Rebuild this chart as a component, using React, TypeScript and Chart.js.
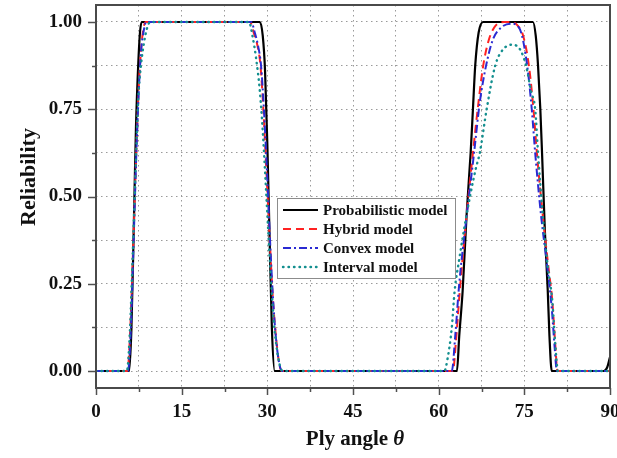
import React, { useEffect, useRef } from 'react';
import { Chart, registerables } from 'chart.js';

Chart.register(...registerables);

// Ply angle (deg) / reliability pairs for each model
const probAngle = [0, 5.8, 6.2, 6.6, 7.0, 7.4, 7.7, 8.0, 28.7, 29.2, 29.6, 30.0, 30.4, 30.8, 31.3, 63.2, 63.6, 64.2, 64.9, 65.6, 66.0, 66.4, 67.0, 67.8, 76.5, 77.0, 77.4, 77.8, 78.1, 78.6, 79.1, 79.4, 79.8, 88.9, 89.5, 90];
const probReliability = [0, 0, 0.12, 0.4, 0.7, 0.88, 0.97, 1, 1, 0.96, 0.86, 0.65, 0.38, 0.12, 0, 0, 0.1, 0.23, 0.45, 0.625, 0.75, 0.875, 0.97, 1, 1, 0.96, 0.875, 0.75, 0.625, 0.4, 0.23, 0.1, 0, 0, 0.01, 0.04];

const hybridAngle = [0, 5.5, 6.0, 6.5, 7.0, 7.5, 7.8, 8.2, 8.7, 27.0, 27.6, 28.3, 28.8, 29.3, 29.9, 30.5, 31.0, 31.5, 32.0, 32.5, 62.5, 63.0, 63.7, 64.8, 66.0, 66.9, 67.8, 68.8, 70.0, 71.5, 72.8, 73.8, 74.8, 75.8, 76.6, 77.2, 78.2, 79.2, 79.9, 80.4, 80.8, 90];
const hybridReliability = [0, 0, 0.12, 0.35, 0.6, 0.82, 0.9, 0.97, 1, 1, 0.97, 0.93, 0.875, 0.75, 0.55, 0.35, 0.2, 0.1, 0.03, 0, 0, 0.08, 0.23, 0.43, 0.625, 0.76, 0.875, 0.95, 0.99, 1, 1, 0.99, 0.96, 0.875, 0.75, 0.625, 0.45, 0.3, 0.2, 0.08, 0, 0];

const convexAngle = [0, 5.6, 6.1, 6.6, 7.1, 7.6, 7.9, 8.3, 8.8, 27.2, 27.8, 28.4, 28.9, 29.4, 30.0, 30.6, 31.1, 31.6, 32.1, 32.6, 62.3, 62.9, 63.6, 64.8, 66.2, 67.2, 68.3, 69.5, 71.0, 72.8, 74.2, 75.5, 76.3, 76.9, 77.9, 79.0, 79.8, 80.3, 80.7, 90];
const convexReliability = [0, 0, 0.12, 0.38, 0.64, 0.84, 0.92, 0.97, 1, 1, 0.97, 0.93, 0.875, 0.75, 0.55, 0.33, 0.18, 0.08, 0.02, 0, 0, 0.1, 0.25, 0.43, 0.625, 0.77, 0.875, 0.95, 0.985, 0.995, 0.98, 0.875, 0.75, 0.625, 0.45, 0.3, 0.18, 0.07, 0, 0];

const intervalAngle = [0, 5.4, 5.9, 6.4, 6.9, 7.4, 7.9, 8.4, 8.9, 9.5, 26.8, 27.4, 28.0, 28.7, 29.3, 29.9, 30.5, 31.1, 31.7, 32.3, 32.8, 61.0, 61.5, 62.3, 62.8, 63.6, 64.6, 65.6, 66.5, 67.2, 68.4, 69.9, 71.2, 72.9, 74.3, 75.3, 76.2, 76.9, 77.4, 78.2, 79.1, 79.9, 80.4, 80.9, 90];
const intervalReliability = [0, 0, 0.1, 0.32, 0.56, 0.78, 0.88, 0.94, 0.98, 1, 1, 0.96, 0.9, 0.8, 0.66, 0.48, 0.3, 0.15, 0.06, 0.01, 0, 0, 0.03, 0.125, 0.23, 0.32, 0.42, 0.51, 0.58, 0.625, 0.75, 0.875, 0.92, 0.935, 0.92, 0.875, 0.8, 0.75, 0.625, 0.45, 0.3, 0.2, 0.08, 0, 0];

const seriesNames = ['Probabilistic model', 'Hybrid model', 'Convex model', 'Interval model'];

const xTicks = [0, 7.5, 15, 22.5, 30, 37.5, 45, 52.5, 60, 67.5, 75, 82.5, 90];
const yTicks = [0, 0.125, 0.25, 0.375, 0.5, 0.625, 0.75, 0.875, 1];

const SERIF = '"Liberation Serif", "Times New Roman", serif';

const toPoints = (xs: number[], ys: number[]) => xs.map((x, i) => ({ x, y: ys[i] }));

const isMajorX = (v: number) => Math.abs(v / 15 - Math.round(v / 15)) < 1e-6;
const isMajorY = (v: number) => Math.abs(v * 4 - Math.round(v * 4)) < 1e-6;

// Frame, outward tick marks, axis titles and the in-plot legend box
const decorPlugin = {
  id: 'decor',
  afterDraw(chart: any) {
    const { ctx, chartArea: a, scales } = chart;
    ctx.save();

    ctx.strokeStyle = '#505050';
    ctx.lineWidth = 1.5;
    for (const v of xTicks) {
      const x = Math.round(scales.x.getPixelForValue(v)) + 0.5;
      const len = isMajorX(v) ? 7 : 4;
      ctx.beginPath();
      ctx.moveTo(x, a.bottom);
      ctx.lineTo(x, a.bottom + len);
      ctx.stroke();
    }
    for (const v of yTicks) {
      const y = Math.round(scales.y.getPixelForValue(v)) + 0.5;
      const len = isMajorY(v) ? 8 : 4;
      ctx.beginPath();
      ctx.moveTo(a.left, y);
      ctx.lineTo(a.left - len, y);
      ctx.stroke();
    }

    ctx.strokeStyle = '#4a4a4a';
    ctx.lineWidth = 2;
    ctx.strokeRect(a.left, a.top, a.right - a.left, a.bottom - a.top);

    // axis titles
    ctx.fillStyle = '#111';
    ctx.textBaseline = 'alphabetic';
    const bold = `bold 21px ${SERIF}`;
    const boldItalic = `italic bold 21px ${SERIF}`;
    ctx.font = bold;
    const part1 = 'Ply angle ';
    const w1 = ctx.measureText(part1).width;
    ctx.font = boldItalic;
    const w2 = ctx.measureText('\u03b8').width;
    const startX = 355 - (w1 + w2) / 2;
    ctx.font = bold;
    ctx.textAlign = 'left';
    ctx.fillText(part1, startX, 445);
    ctx.font = boldItalic;
    ctx.fillText('\u03b8', startX + w1, 445);

    ctx.save();
    ctx.translate(35, 177);
    ctx.rotate(-Math.PI / 2);
    ctx.font = `bold 22px ${SERIF}`;
    ctx.textAlign = 'center';
    ctx.fillText('Reliability', 0, 0);
    ctx.restore();

    // legend
    const box = { left: 277, top: 198, right: 455, bottom: 278 };
    ctx.fillStyle = '#ffffff';
    ctx.fillRect(box.left, box.top, box.right - box.left, box.bottom - box.top);
    ctx.strokeStyle = '#8c8c8c';
    ctx.lineWidth = 1;
    ctx.strokeRect(box.left + 0.5, box.top + 0.5, box.right - box.left, box.bottom - box.top);
    const rowY = [210, 229, 248, 267];
    chart.data.datasets.forEach((ds: any, i: number) => {
      const y = rowY[i];
      ctx.save();
      ctx.strokeStyle = ds.borderColor;
      ctx.lineWidth = ds.borderWidth;
      ctx.setLineDash(ds.borderDash || []);
      ctx.lineCap = ds.borderCapStyle || 'butt';
      ctx.beginPath();
      ctx.moveTo(283, y);
      ctx.lineTo(318, y);
      ctx.stroke();
      ctx.restore();
      ctx.fillStyle = '#111';
      ctx.font = `bold 15px ${SERIF}`;
      ctx.textAlign = 'left';
      ctx.textBaseline = 'middle';
      ctx.fillText(ds.label, 323, y + 1);
    });

    ctx.restore();
  },
};

const noLabelPadding = (scale: any) => {
  scale.paddingTop = 0;
  scale.paddingBottom = 0;
  scale.paddingLeft = 0;
  scale.paddingRight = 0;
};

export default function App() {
  const canvasRef = useRef<HTMLCanvasElement | null>(null);

  useEffect(() => {
    const canvas = canvasRef.current;
    if (!canvas) return;

    const common = {
      pointRadius: 0,
      pointHoverRadius: 0,
      fill: false,
      cubicInterpolationMode: 'monotone' as const,
    };

    const chart = new Chart(canvas, {
      type: 'line',
      data: {
        datasets: [
          {
            ...common,
            label: seriesNames[0],
            data: toPoints(probAngle, probReliability),
            borderColor: '#000000',
            borderWidth: 2.2,
            order: 3,
          },
          {
            ...common,
            label: seriesNames[1],
            data: toPoints(hybridAngle, hybridReliability),
            borderColor: '#ff2222',
            borderWidth: 2,
            borderDash: [8, 5],
            order: 2,
          },
          {
            ...common,
            label: seriesNames[2],
            data: toPoints(convexAngle, convexReliability),
            borderColor: '#2a2ad2',
            borderWidth: 2,
            borderDash: [8, 3, 2, 3],
            order: 1,
          },
          {
            ...common,
            label: seriesNames[3],
            data: toPoints(intervalAngle, intervalReliability),
            borderColor: '#138f8f',
            borderWidth: 2.4,
            borderDash: [0.5, 5],
            borderCapStyle: 'round',
            order: 0,
          },
        ],
      },
      options: {
        responsive: false,
        animation: false,
        devicePixelRatio: 1,
        layout: { padding: { top: 5, right: 7, left: 0, bottom: 0 } },
        plugins: {
          legend: { display: false },
          tooltip: { enabled: false },
        },
        scales: {
          x: {
            type: 'linear',
            min: 0,
            max: 90,
            afterBuildTicks: (scale: any) => {
              scale.ticks = xTicks.map((value) => ({ value }));
            },
            afterFit: (scale: any) => {
              scale.height = 70;
              noLabelPadding(scale);
            },
            ticks: {
              autoSkip: false,
              maxRotation: 0,
              padding: 13,
              color: '#111',
              font: { family: SERIF, size: 19, weight: 'bold' },
              callback: (v: any) => (isMajorX(Number(v)) ? String(v) : ''),
            },
            grid: { color: '#9a9a9a', lineWidth: 1, drawTicks: false },
            border: { display: false, dash: [1.5, 3.5] },
          },
          y: {
            type: 'linear',
            min: -0.0487,
            max: 1.0487,
            afterBuildTicks: (scale: any) => {
              scale.ticks = yTicks.map((value) => ({ value }));
            },
            afterFit: (scale: any) => {
              scale.width = 96;
              noLabelPadding(scale);
            },
            ticks: {
              autoSkip: false,
              padding: 14,
              color: '#111',
              font: { family: SERIF, size: 19, weight: 'bold' },
              callback: (v: any) => (isMajorY(Number(v)) ? Number(v).toFixed(2) : ''),
            },
            grid: { color: '#9a9a9a', lineWidth: 1, drawTicks: false },
            border: { display: false, dash: [1.5, 3.5] },
          },
        },
      },
      plugins: [decorPlugin],
    } as any);

    return () => chart.destroy();
  }, []);

  return (
    <div style={{ position: 'fixed', left: 0, top: 0, width: 617, height: 458, background: '#fff' }}>
      <canvas ref={canvasRef} width={617} height={458} style={{ display: 'block' }} />
    </div>
  );
}
